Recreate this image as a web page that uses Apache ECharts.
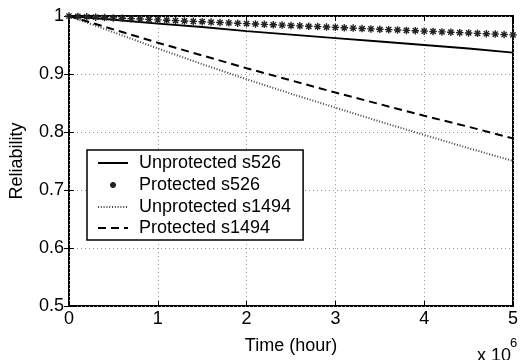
<!DOCTYPE html>
<html>
<head>
<meta charset="utf-8">
<script src="https://cdn.jsdelivr.net/npm/echarts@6/dist/echarts.min.js"></script>
<style>html,body{margin:0;padding:0;background:#fff}#c{width:521px;height:360px}</style>
</head>
<body>
<div id="c"></div>
<script>
// Time in units of 10^6 hours
var timeCoarse = [0, 0.5, 1, 1.5, 2, 2.5, 3, 3.5, 4, 4.5, 5];
var unprotS526 = [1, 0.9935, 0.987, 0.981, 0.974, 0.968, 0.962, 0.956, 0.950, 0.944, 0.937];
var unprotS1494 = [1, 0.972, 0.944, 0.917, 0.891, 0.866, 0.842, 0.818, 0.795, 0.772, 0.750];
var protS1494 = [1, 0.977, 0.954, 0.932, 0.910, 0.889, 0.868, 0.848, 0.828, 0.809, 0.789];
var timeFine = [0,0.1,0.2,0.3,0.4,0.5,0.6,0.7,0.8,0.9,1,1.1,1.2,1.3,1.4,1.5,1.6,1.7,1.8,1.9,2,2.1,2.2,2.3,2.4,2.5,2.6,2.7,2.8,2.9,3,3.1,3.2,3.3,3.4,3.5,3.6,3.7,3.8,3.9,4,4.1,4.2,4.3,4.4,4.5,4.6,4.7,4.8,4.9,5];
var protS526 = [1.0000,0.9993,0.9987,0.9980,0.9974,0.9967,0.9961,0.9954,0.9947,0.9941,0.9934,0.9928,0.9921,0.9915,0.9908,0.9901,0.9895,0.9888,0.9882,0.9875,0.9869,0.9862,0.9856,0.9849,0.9843,0.9836,0.9830,0.9823,0.9817,0.9810,0.9804,0.9797,0.9791,0.9784,0.9778,0.9771,0.9765,0.9759,0.9752,0.9746,0.9739,0.9733,0.9726,0.9720,0.9713,0.9707,0.9701,0.9694,0.9688,0.9681,0.9675];
var seriesNames = ['Unprotected s526', 'Protected s526', 'Unprotected s1494', 'Protected s1494'];

function pairs(xs, ys) { return xs.map(function (x, i) { return [x, ys[i]]; }); }

var FONT = 'Liberation Sans, Arial, Helvetica, sans-serif';
var asterisk = 'path://M-5,0L5,0M0,-5L0,5M-3.5,-3.5L3.5,3.5M-3.5,3.5L3.5,-3.5';
var asteriskLegend = 'path://M-3,0L3,0M0,-3L0,3M-2.1,-2.1L2.1,2.1M-2.1,2.1L2.1,-2.1M-15,-9L-15,-9M15,9L15,9';

var chart = echarts.init(document.getElementById('c'), null, {renderer: 'canvas'});
var gridLine = {show: true, lineStyle: {color: '#999', type: [1, 3], width: 1}};
var hidden = {opacity: 0};
chart.setOption({
  animation: false,
  backgroundColor: '#fff',
  grid: {left: 67, right: 3, top: 16, bottom: 45, show: true, borderColor: '#000', borderWidth: 2, backgroundColor: 'transparent'},
  xAxis: [{
    type: 'value', min: 0, max: 5, interval: 1,
    name: 'Time (hour)', nameLocation: 'middle', nameGap: 31,
    nameTextStyle: {fontFamily: FONT, fontSize: 18, color: '#000'},
    axisLine: {show: false},
    axisTick: {show: true, inside: true, length: 5, lineStyle: {color: '#000', width: 1}},
    axisLabel: {fontFamily: FONT, fontSize: 18, color: '#000', margin: 4},
    splitLine: gridLine
  }, {
    type: 'value', min: 0, max: 5, interval: 1, position: 'top',
    axisLine: {show: false},
    axisTick: {show: true, inside: true, length: 5, lineStyle: {color: '#000', width: 1}},
    axisLabel: {show: false}, splitLine: {show: false}
  }],
  yAxis: [{
    type: 'value', min: 0.5, max: 1, interval: 0.1,
    name: 'Reliability', nameLocation: 'middle', nameGap: 43,
    nameTextStyle: {fontFamily: FONT, fontSize: 18, color: '#000'},
    axisLine: {show: false},
    axisTick: {show: true, inside: true, length: 5, lineStyle: {color: '#000', width: 1}},
    axisLabel: {fontFamily: FONT, fontSize: 18, color: '#000', margin: 5,
      formatter: function (v) { return (Math.round(v * 10) / 10).toString(); }},
    splitLine: gridLine
  }, {
    type: 'value', min: 0.5, max: 1, interval: 0.1, position: 'right',
    axisLine: {show: false},
    axisTick: {show: true, inside: true, length: 5, lineStyle: {color: '#000', width: 1}},
    axisLabel: {show: false}, splitLine: {show: false}
  }],
  legend: {
    orient: 'vertical', left: 87, top: 150,
    data: [
      {name: seriesNames[0], itemStyle: hidden},
      {name: seriesNames[1], icon: asteriskLegend},
      {name: seriesNames[2], itemStyle: hidden},
      {name: seriesNames[3], itemStyle: hidden}
    ],
    backgroundColor: '#fff', borderColor: '#000', borderWidth: 1.5,
    padding: [4, 12, 3, 10], itemGap: 3, itemWidth: 30, itemHeight: 18,
    textStyle: {fontFamily: FONT, fontSize: 18, color: '#000', padding: [0, 0, 0, 6]}
  },
  series: [{
    name: seriesNames[0], type: 'line', data: pairs(timeCoarse, unprotS526),
    symbol: 'none', lineStyle: {color: '#000', width: 1.8}, itemStyle: {color: '#000'}
  }, {
    name: seriesNames[1], type: 'line', data: pairs(timeFine, protS526),
    symbol: asterisk, symbolSize: 7.5, showAllSymbol: true,
    lineStyle: {width: 0, opacity: 0},
    itemStyle: {color: '#000', borderColor: '#222', borderWidth: 1.4}
  }, {
    name: seriesNames[2], type: 'line', data: pairs(timeCoarse, unprotS1494),
    symbol: 'none', lineStyle: {color: '#444', width: 2, type: [1, 1.8]}, itemStyle: {color: '#444'}
  }, {
    name: seriesNames[3], type: 'line', data: pairs(timeCoarse, protS1494),
    symbol: 'none', lineStyle: {color: '#000', width: 2, type: [8, 5]}, itemStyle: {color: '#000'}
  }],
  graphic: [{
    type: 'text', left: 477, top: 347,
    style: {text: 'x 10', fontFamily: FONT, fontSize: 18, fill: '#000'}
  }, {
    type: 'text', left: 510, top: 337,
    style: {text: '6', fontFamily: FONT, fontSize: 13, fill: '#000'}
  }]
});
</script>
</body>
</html>
